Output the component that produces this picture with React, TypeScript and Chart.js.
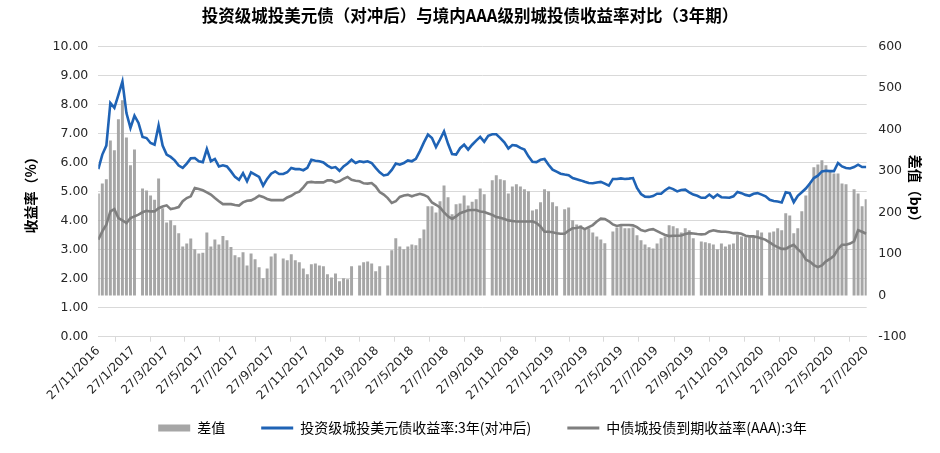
import React, { useEffect, useRef } from 'react';
import { Chart, registerables } from 'chart.js';

Chart.register(...registerables);

const chartTitle = '投资级城投美元债（对冲后）与境内AAA级别城投债收益率对比（3年期）';
const leftAxisTitle = '收益率（%）';
const rightAxisTitle = '差值（bp）';
const spreadLabel = '差值';
const blueLabel = '投资级城投美元债收益率:3年(对冲后)';
const grayLabel = '中债城投债到期收益率(AAA):3年';

const startDate = '27/11/2016';
const weekStep = 7;

const tickLabels = [
  '27/11/2016', '27/1/2017', '27/3/2017', '27/5/2017', '27/7/2017', '27/9/2017',
  '27/11/2017', '27/1/2018', '27/3/2018', '27/5/2018', '27/7/2018', '27/9/2018',
  '27/11/2018', '27/1/2019', '27/3/2019', '27/5/2019', '27/7/2019', '27/9/2019',
  '27/11/2019', '27/1/2020', '27/3/2020', '27/5/2020', '27/7/2020',
];

const leftTicks = { min: 0, max: 10, step: 1 };
const rightTicks = { min: -100, max: 600, step: 100 };

// 投资级城投美元债收益率:3年(对冲后), weekly (%)
const blueYield = [
  5.78, 6.28, 6.59, 8.06, 7.89, 8.34, 8.80, 7.71, 7.20, 7.62,
  7.37, 6.89, 6.85, 6.68, 6.62, 7.28, 6.59, 6.28, 6.20, 6.08,
  5.90, 5.82, 5.97, 6.15, 6.16, 6.05, 6.02, 6.47, 6.05, 6.13,
  5.87, 5.91, 5.87, 5.70, 5.51, 5.41, 5.64, 5.36, 5.67, 5.59,
  5.51, 5.21, 5.44, 5.62, 5.70, 5.61, 5.61, 5.67, 5.82, 5.78,
  5.78, 5.74, 5.82, 6.10, 6.07, 6.05, 6.01, 5.90, 5.82, 5.85,
  5.72, 5.87, 5.97, 6.10, 5.99, 6.05, 6.02, 6.05, 5.99, 5.82,
  5.67, 5.56, 5.59, 5.75, 5.97, 5.93, 5.99, 6.08, 6.05, 6.13,
  6.40, 6.70, 6.97, 6.85, 6.54, 6.80, 7.08, 6.65, 6.30, 6.28,
  6.50, 6.62, 6.45, 6.62, 6.76, 6.89, 6.72, 6.93, 6.98, 6.98,
  6.85, 6.70, 6.49, 6.61, 6.59, 6.51, 6.45, 6.22, 6.03, 6.02,
  6.10, 6.13, 5.93, 5.76, 5.69, 5.62, 5.59, 5.57, 5.47, 5.43,
  5.39, 5.34, 5.30, 5.29, 5.32, 5.34, 5.28, 5.21, 5.44, 5.44,
  5.46, 5.44, 5.45, 5.47, 5.13, 4.92, 4.83, 4.82, 4.85, 4.93,
  4.93, 5.05, 5.14, 5.09, 5.01, 5.06, 5.07, 4.98, 4.90, 4.86,
  4.79, 4.79, 4.90, 4.79, 4.90, 4.81, 4.80, 4.79, 4.84, 4.99,
  4.95, 4.89, 4.86, 4.93, 4.95, 4.90, 4.84, 4.72, 4.68, 4.66,
  4.63, 4.98, 4.95, 4.64, 4.86, 4.98, 5.11, 5.28, 5.47, 5.55,
  5.70, 5.72, 5.71, 5.71, 5.99, 5.87, 5.82, 5.80, 5.85, 5.93,
  5.85, 5.85,
];

// 中债城投债到期收益率(AAA):3年, weekly (%)
const grayYield = [
  3.35, 3.63, 3.86, 4.32, 4.40, 4.09, 4.01, 3.92, 4.09, 4.15,
  4.21, 4.29, 4.34, 4.32, 4.32, 4.43, 4.49, 4.53, 4.40, 4.43,
  4.47, 4.67, 4.78, 4.84, 5.13, 5.09, 5.05, 4.98, 4.90, 4.78,
  4.67, 4.57, 4.57, 4.57, 4.54, 4.52, 4.63, 4.69, 4.70, 4.77,
  4.86, 4.82, 4.75, 4.71, 4.71, 4.71, 4.71, 4.80, 4.86, 4.95,
  5.00, 5.15, 5.32, 5.34, 5.32, 5.32, 5.32, 5.39, 5.39, 5.32,
  5.36, 5.44, 5.51, 5.41, 5.38, 5.36, 5.29, 5.28, 5.30, 5.18,
  4.99, 4.90, 4.78, 4.61, 4.67, 4.82, 4.87, 4.89, 4.84, 4.89,
  4.93, 4.89, 4.82, 4.63, 4.55, 4.46, 4.29, 4.15, 4.06, 4.15,
  4.26, 4.31, 4.36, 4.37, 4.37, 4.32, 4.30, 4.25, 4.20, 4.13,
  4.10, 4.06, 4.01, 3.99, 3.97, 3.97, 3.97, 3.97, 3.98, 3.92,
  3.80, 3.62, 3.62, 3.60, 3.57, 3.55, 3.55, 3.66, 3.74, 3.75,
  3.78, 3.71, 3.78, 3.85, 3.97, 4.07, 4.06, 3.98, 3.87, 3.82,
  3.85, 3.85, 3.85, 3.84, 3.78, 3.68, 3.64, 3.69, 3.71, 3.64,
  3.57, 3.51, 3.47, 3.48, 3.48, 3.49, 3.54, 3.57, 3.56, 3.54,
  3.53, 3.54, 3.63, 3.67, 3.64, 3.62, 3.62, 3.60, 3.57, 3.57,
  3.55, 3.48, 3.46, 3.46, 3.43, 3.39, 3.34, 3.25, 3.16, 3.09,
  3.03, 3.03, 3.11, 3.17, 3.02, 2.89, 2.66, 2.59, 2.47, 2.40,
  2.46, 2.60, 2.68, 2.79, 3.02, 3.17, 3.17, 3.21, 3.29, 3.67,
  3.62, 3.55,
];

// 差值, weekly (bp); null = no value that week
const spreadBp: (number | null)[] = [
  245, 269, 279, 373, 349, 424, 470, 380, 313, 351,
  null, 257, 252, 240, 230, 281, 209, 175, 180, 168,
  149, 117, 124, 136, 110, 100, 102, 151, 117, 134,
  122, 142, 132, 116, 96, 91, 103, 71, 100, 86,
  67, 40, 64, 93, 100, null, 88, 84, 98, 84,
  79, 64, 50, 74, 76, 71, 69, 50, 42, 52,
  33, 40, 38, 69, null, 71, 79, 81, 76, 57,
  69, null, 71, 108, 137, 117, 110, 117, 122, 120,
  137, 158, 214, 214, 199, 226, 264, 236, 195, 219,
  221, 240, 216, 225, 231, 257, 243, null, 277, 289,
  279, 277, 245, 262, 267, 262, 255, 250, 204, 207,
  224, 255, 250, 224, 214, null, 207, 211, 180, 170,
  168, 158, 161, 151, 141, 134, 125, null, 153, 163,
  168, 161, 161, 163, 144, 132, 122, 115, 112, 124,
  137, 141, 168, 166, 161, 151, 161, 156, 137, null,
  129, 127, 125, 122, 110, 124, 117, 122, 124, 146,
  141, 139, 139, 139, 156, 151, null, 151, 153, 161,
  156, 197, 192, 149, 161, 202, 240, 269, 308, 315,
  325, 313, 298, 293, 293, 269, 267, null, 255, 245,
  214, 231,
];

const BLUE = '#1f63b5';
const GRAY_LINE = '#7f7f7f';
const GRAY_BAR = '#a6a6a6';
const GRID = '#d9d9d9';
const TEXT = '#262626';
const CJK = '"Noto Sans CJK SC", "Noto Sans", sans-serif';
const NUM = '"DejaVu Sans", sans-serif';

function dayNumber(label: string): number {
  const [d, m, y] = label.split('/').map(Number);
  return Math.round(Date.UTC(y, m - 1, d) / 86400000);
}

export default function App() {
  const canvasRef = useRef<HTMLCanvasElement>(null);

  useEffect(() => {
    if (!canvasRef.current) return;
    const day0 = dayNumber(startDate);
    const tickDays = tickLabels.map((l) => dayNumber(l) - day0);
    const xOf = (i: number) => i * weekStep;

    const barData = spreadBp
      .map((v, i) => ({ x: xOf(i), y: v }))
      .filter((p) => p.y !== null) as { x: number; y: number }[];
    const blueData = blueYield.map((v, i) => ({ x: xOf(i), y: v }));
    const grayData = grayYield.map((v, i) => ({ x: xOf(i), y: v }));

    const chart = new Chart(canvasRef.current, {
      type: 'line',
      data: {
        datasets: [
          {
            type: 'bar',
            label: spreadLabel,
            data: barData,
            yAxisID: 'y2',
            backgroundColor: GRAY_BAR,
            borderWidth: 0,
            barThickness: 2.3,
            grouped: false,
            order: 3,
          } as any,
          {
            type: 'line',
            label: blueLabel,
            data: blueData,
            yAxisID: 'y',
            borderColor: BLUE,
            backgroundColor: BLUE,
            borderWidth: 2.6,
            pointRadius: 0,
            tension: 0,
            fill: false,
            order: 1,
          },
          {
            type: 'line',
            label: grayLabel,
            data: grayData,
            yAxisID: 'y',
            borderColor: GRAY_LINE,
            backgroundColor: GRAY_LINE,
            borderWidth: 2.6,
            pointRadius: 0,
            tension: 0,
            fill: false,
            order: 2,
          },
        ],
      },
      options: {
        animation: false,
        responsive: true,
        maintainAspectRatio: false,
        layout: { padding: { left: 0, right: 0, top: 0, bottom: 8 } },
        plugins: {
          tooltip: { enabled: false },
          title: {
            display: true,
            text: chartTitle,
            color: '#000',
            font: { family: CJK, size: 16.5, weight: 'bold' },
            padding: { top: 5.5, bottom: 21.4 },
          },
          legend: {
            position: 'bottom',
            fullSize: false,
            labels: {
              usePointStyle: true,
              pointStyleWidth: 32,
              boxHeight: 7,
              padding: 36,
              color: TEXT,
              font: { family: CJK, size: 14 },
              generateLabels: () => [
                { text: spreadLabel, fillStyle: GRAY_BAR, strokeStyle: GRAY_BAR, lineWidth: 0, pointStyle: 'rect', hidden: false, datasetIndex: 0 },
                { text: blueLabel, fillStyle: BLUE, strokeStyle: BLUE, lineWidth: 3, pointStyle: 'line', hidden: false, datasetIndex: 1 },
                { text: grayLabel, fillStyle: GRAY_LINE, strokeStyle: GRAY_LINE, lineWidth: 3, pointStyle: 'line', hidden: false, datasetIndex: 2 },
              ] as any,
            },
          },
        },
        scales: {
          x: {
            type: 'linear',
            min: 0,
            max: tickDays[tickDays.length - 1],
            offset: false,
            afterBuildTicks: (scale: any) => {
              scale.ticks = tickDays.map((v) => ({ value: v }));
            },
            afterFit: (scale: any) => {
              scale.height = 48.3;
              // let the rotated labels extend below the (short) axis box
              scale._computeLabelArea = () => undefined;
            },
            ticks: {
              autoSkip: false,
              maxRotation: 45,
              minRotation: 45,
              padding: 2,
              color: TEXT,
              font: { family: NUM, size: 12 },
              callback: (_v: any, index: number) => tickLabels[index],
            },
            grid: {
              display: true,
              drawOnChartArea: false,
              drawTicks: true,
              tickLength: 5,
              color: GRID,
            },
            border: { display: true, color: GRID },
          },
          y: {
            type: 'linear',
            position: 'left',
            min: leftTicks.min,
            max: leftTicks.max,
            afterFit: (scale: any) => {
              scale.width = 98.3;
            },
            ticks: {
              stepSize: leftTicks.step,
              padding: 10,
              color: TEXT,
              font: { family: NUM, size: 12.5 },
              callback: (v: any) => Number(v).toFixed(2),
            },
            grid: { color: GRID, drawTicks: false },
            border: { display: false },
            title: {
              display: true,
              text: leftAxisTitle,
              color: '#000',
              font: { family: CJK, size: 14, weight: 'bold' },
              padding: { top: 22, bottom: 0 },
            },
          },
          y2: {
            type: 'linear',
            position: 'right',
            min: rightTicks.min,
            max: rightTicks.max,
            afterFit: (scale: any) => {
              scale.width = 73.3;
            },
            ticks: {
              stepSize: rightTicks.step,
              padding: 11.5,
              color: TEXT,
              font: { family: NUM, size: 12.5 },
            },
            grid: { display: false, drawTicks: false },
            border: { display: false },
            title: {
              display: true,
              text: rightAxisTitle,
              color: '#000',
              font: { family: CJK, size: 14, weight: 'bold' },
              padding: { top: 16.6, bottom: 0 },
            },
          },
        },
      } as any,
    });

    return () => chart.destroy();
  }, []);

  return (
    <div style={{ position: 'fixed', left: 0, top: 0, width: 940, height: 453, background: '#fff' }}>
      <canvas ref={canvasRef} />
    </div>
  );
}
